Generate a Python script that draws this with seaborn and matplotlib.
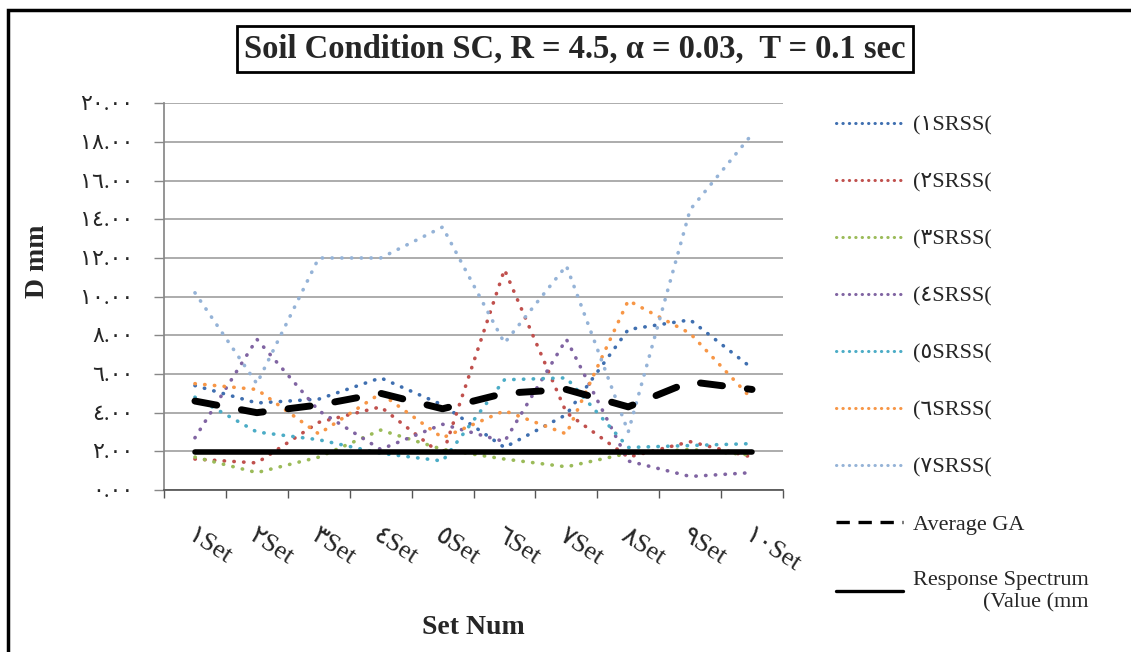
import matplotlib
matplotlib.use("Agg")
import matplotlib.pyplot as plt
import matplotlib.patches as patches
import seaborn as sns

# data
sets = ["١Set", "٢Set", "٣Set", "٤Set", "٥Set", "٦Set", "٧Set", "٨Set", "٩Set", "١٠Set"]
srss1 = [5.4, 4.5, 4.7, 5.8, 4.4, 2.2, 3.9, 8.3, 8.8, 6.3]
srss2 = [1.6, 1.4, 3.5, 4.3, 1.8, 11.4, 4.0, 1.7, 2.5, 1.7]
srss3 = [1.7, 0.9, 1.7, 3.1, 2.1, 1.6, 1.2, 1.9, 2.1, 1.8]
srss4 = [2.7, 7.8, 4.1, 2.1, 3.4, 2.5, 7.8, 1.5, 0.7, 0.9]
srss5 = [4.8, 3.0, 2.6, 1.9, 1.5, 5.7, 5.8, 2.2, 2.3, 2.4]
srss6 = [5.5, 5.2, 2.9, 5.0, 2.7, 4.1, 2.9, 9.8, 8.1, 4.7]
srss7 = [10.2, 5.5, 12.0, 12.0, 13.6, 7.6, 11.6, 3.0, 14.5, 18.4]
avg_ga = [4.6, 4.0, 4.4, 5.0, 4.2, 5.0, 5.2, 4.3, 5.6, 5.2]
response = [1.95, 1.95, 1.95, 1.95, 1.95, 1.95, 1.95, 1.95, 1.95, 1.95]

srss_labels = ["(١SRSS(", "(٢SRSS(", "(٣SRSS(", "(٤SRSS(", "(٥SRSS(", "(٦SRSS(", "(٧SRSS("]
srss_colors = ["#3F6FB0", "#C0504D", "#9BBB59", "#8064A2", "#4BACC6", "#F79646", "#95B3D7"]
ytick_vals = [0, 2, 4, 6, 8, 10, 12, 14, 16, 18, 20]
ytick_labels = ["٠.٠٠", "٢.٠٠", "٤.٠٠", "٦.٠٠", "٨.٠٠", "١٠.٠٠", "١٢.٠٠", "١٤.٠٠", "١٦.٠٠", "١٨.٠٠", "٢٠.٠٠"]

sns.set_theme(style="white")
plt.rcParams['font.family'] = ['Liberation Serif', 'DejaVu Sans']

fig = plt.figure(figsize=(11.31, 6.52), dpi=100)
ax = fig.add_axes([164 / 1131, 1 - 490 / 652, (783 - 164) / 1131, (490 - 103.3) / 652])

pos = list(range(len(sets)))
series = [srss1, srss2, srss3, srss4, srss5, srss6, srss7]
for vals, lab, col in zip(series, srss_labels, srss_colors):
    sns.lineplot(x=pos, y=vals, ax=ax, color=col, label=lab, lw=2.6,
                 linestyle=(0, (0.1, 2.6)), dash_capstyle='round')

sns.lineplot(x=pos, y=avg_ga, ax=ax, color='black', label='Average GA', lw=5,
             linestyle=(0, (3.2, 3.6)), dash_capstyle='round')
sns.lineplot(x=pos, y=response, ax=ax, color='black',
             label='Response Spectrum\n(Value (mm', lw=4)

ax.set_xlim(-0.5, 9.5)
ax.set_ylim(0, 20)

# y axis
ax.set_yticks(ytick_vals)
ax.set_yticklabels(ytick_labels, fontsize=16)
ax.yaxis.grid(True, color='#A6A6A6', lw=1.3)
ax.tick_params(axis='y', length=7, width=1, color='#888888', pad=15, left=True)

# x axis: labels at centres, marks between categories
ax.set_xticks(pos)
ax.set_xticklabels(sets, fontsize=19, rotation=-33, ha='left', rotation_mode='anchor')
ax.set_xticks([p - 0.5 for p in pos] + [9.5], minor=True)
ax.tick_params(axis='x', which='major', length=0, pad=25)
ax.tick_params(axis='x', which='minor', length=6, width=1, color='#555555', bottom=True)

for s in ['top', 'right']:
    ax.spines[s].set_visible(False)
ax.spines['left'].set_color('#888888')
ax.spines['bottom'].set_color('#555555')

ax.set_xlabel('')
ax.set_ylabel('')
fig.text(473 / 1131, 1 - 627 / 652, 'Set Num', fontsize=20, fontweight='bold',
         ha='center', va='center')
fig.text(38 / 1131, 1 - 261 / 652, 'D mm', fontsize=20, fontweight='bold',
         ha='center', va='center', rotation=90)

fig.text(575 / 1131, 1 - 49 / 652,
         'Soil Condition SC, R = 4.5, α = 0.03,  T = 0.1 sec',
         fontsize=23.5, fontweight='bold', ha='center', va='center',
         bbox=dict(boxstyle='square,pad=0.22', fc='white', ec='black', lw=2))

handles, labels = ax.get_legend_handles_labels()
leg = ax.legend(handles, labels, loc='upper left', bbox_to_anchor=(836 / 1131, 1 - 115 / 652),
                bbox_transform=fig.transFigure, frameon=False, fontsize=16,
                handlelength=3.0, handletextpad=0.45, labelspacing=1.64,
                borderpad=0, borderaxespad=0)
leg.get_texts()[-1].set_multialignment('right')
lh = leg.legend_handles
for h in lh[:7]:
    h.set_linewidth(2.2)
    h.set_linestyle((0, (0.1, 2.0)))
lh[7].set_linewidth(2.4)
lh[7].set_linestyle((0, (4, 2.6)))
lh[7].set_dash_capstyle('butt')
lh[8].set_linewidth(2.4)

# outer frame of the picture
fig.patches.append(patches.Rectangle((8 / 1131, -0.1), 1.2, 1.1 - 10 / 652,
                                     transform=fig.transFigure, fill=False,
                                     ec='black', lw=2.5))

fig.savefig('out.png', dpi=100)
